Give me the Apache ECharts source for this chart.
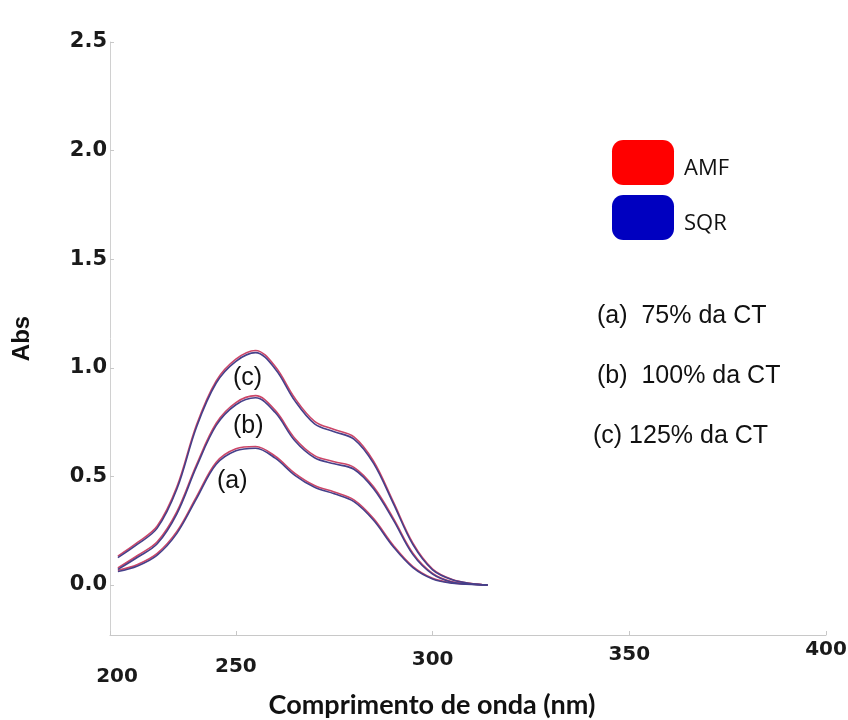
<!DOCTYPE html>
<html>
<head>
    <meta charset="utf-8">
    <title>Abs x Comprimento de onda</title>
    <script src="https://cdn.jsdelivr.net/npm/echarts@6.0.0/dist/echarts.min.js"></script>
    <style>
        html, body {
            margin: 0;
            padding: 0;
            width: 100%;
            height: 100%;
            overflow: hidden;
            background: #ffffff;
        }
        #chart {
            width: 848px;
            height: 720px;
        }
    </style>
</head>
<body>
    <div id="chart"></div>
    <script>
        // comprimento de onda (nm)
        const wavelengths = [220, 225, 230, 235, 240, 245, 250, 255, 260, 265, 270, 275, 280, 285, 290, 295, 300, 305, 310, 314];

        // (a) 75% da CT
        const amfA = [0.068, 0.095, 0.146, 0.247, 0.407, 0.565, 0.627, 0.638, 0.593, 0.514, 0.458, 0.428, 0.392, 0.306, 0.183, 0.085, 0.031, 0.010, 0.004, 0.0];
        const sqrA = [0.062, 0.088, 0.138, 0.238, 0.398, 0.556, 0.618, 0.630, 0.584, 0.505, 0.450, 0.420, 0.384, 0.298, 0.176, 0.080, 0.028, 0.008, 0.003, 0.0];
        // (b) 100% da CT
        const amfB = [0.079, 0.136, 0.199, 0.338, 0.555, 0.745, 0.840, 0.872, 0.804, 0.675, 0.596, 0.568, 0.542, 0.452, 0.308, 0.147, 0.054, 0.015, 0.005, 0.0];
        const sqrB = [0.072, 0.128, 0.190, 0.328, 0.545, 0.735, 0.830, 0.862, 0.794, 0.664, 0.586, 0.558, 0.533, 0.443, 0.300, 0.140, 0.050, 0.013, 0.004, 0.0];
        // (c) 125% da CT
        const amfC = [0.133, 0.196, 0.272, 0.452, 0.738, 0.940, 1.040, 1.080, 1.006, 0.860, 0.754, 0.716, 0.682, 0.570, 0.384, 0.193, 0.074, 0.026, 0.007, 0.0];
        const sqrC = [0.126, 0.188, 0.262, 0.442, 0.728, 0.930, 1.030, 1.070, 0.995, 0.848, 0.742, 0.706, 0.672, 0.560, 0.376, 0.186, 0.070, 0.024, 0.006, 0.0];

        // eixos
        const xTickValues = [218, 250, 300, 350, 400];
        const xTickLabels = ['200', '250', '300', '350', '400'];
        const yTickValues = [0, 0.5, 1.0, 1.5, 2.0, 2.5];

        const legendNames = ['AMF', 'SQR'];
        const notes = ['(a)  75% da CT', '(b)  100% da CT', '(c) 125% da CT'];
        const curveTags = ['(c)', '(b)', '(a)'];

        const amfColor = '#cc4668';
        const sqrColor = '#46408a';

        const zip = (ys) => wavelengths.map((x, i) => [x, ys[i]]);

        function lineSeries(name, ys, color) {
            return {
                name: name,
                type: 'line',
                data: zip(ys),
                smooth: 0.35,
                showSymbol: false,
                symbol: 'none',
                lineStyle: { color: color, width: 1.6 },
                itemStyle: { color: color },
                animation: false
            };
        }

        // o eixo x da figura original está ligeiramente inclinado
        const xLabelRich = {
            t0: { padding: [27, 0, 0, 14] },
            t1: { padding: [17, 0, 0, 0] },
            t2: { padding: [10, 0, 0, 0] },
            t3: { padding: [5, 0, 0, 0] },
            t4: { padding: [0, 0, 0, 0] }
        };

        const chart = echarts.init(document.getElementById('chart'), null, { renderer: 'canvas' });

        const option = {
            backgroundColor: '#ffffff',
            animation: false,
            grid: {
                left: 110,
                right: 22,
                top: 42,
                bottom: 85,
                outerBoundsMode: 'none'
            },
            legend: {
                orient: 'vertical',
                left: 612,
                top: 140,
                padding: 0,
                itemWidth: 62,
                itemHeight: 45,
                itemGap: 10,
                icon: 'roundRect',
                data: [
                    { name: legendNames[0], itemStyle: { color: '#ff0000' } },
                    { name: legendNames[1], itemStyle: { color: '#0000c0' } }
                ],
                formatter: '{t|{name}}',
                textStyle: {
                    fontFamily: 'Open Sans',
                    fontSize: 22,
                    color: '#111',
                    rich: {
                        t: {
                            fontFamily: 'Open Sans',
                            fontSize: 22,
                            color: '#111',
                            padding: [12, 0, 0, 5]
                        }
                    }
                }
            },
            xAxis: {
                type: 'value',
                min: 218,
                max: 400,
                name: 'Comprimento de onda (nm)',
                nameLocation: 'middle',
                nameGap: 53,
                nameTextStyle: {
                    fontFamily: 'Lato',
                    fontWeight: 'bold',
                    fontSize: 27,
                    color: '#111',
                    padding: [0, 72, 0, 0]
                },
                axisLine: { show: true, onZero: false, lineStyle: { color: '#c8c8c8', width: 1 } },
                axisTick: {
                    show: true,
                    customValues: xTickValues,
                    inside: true,
                    length: 4,
                    lineStyle: { color: '#c8c8c8' }
                },
                axisLabel: {
                    customValues: xTickValues,
                    margin: 5,
                    fontFamily: 'DejaVu Sans',
                    fontWeight: 'bold',
                    fontSize: 20,
                    color: '#1a1a1a',
                    rich: xLabelRich,
                    formatter: (v) => {
                        const i = xTickValues.indexOf(v);
                        return i < 0 ? '' : '{t' + i + '|' + xTickLabels[i] + '}';
                    }
                },
                splitLine: { show: false }
            },
            yAxis: {
                type: 'value',
                min: -0.23,
                max: 2.5,
                name: 'Abs',
                nameLocation: 'middle',
                nameRotate: 90,
                nameGap: 76,
                nameTextStyle: {
                    fontFamily: 'Liberation Sans',
                    fontWeight: 'bold',
                    fontSize: 24,
                    color: '#111'
                },
                axisLine: { show: true, lineStyle: { color: '#d0d0d0', width: 1 } },
                axisTick: {
                    show: true,
                    customValues: yTickValues,
                    inside: true,
                    length: 4,
                    lineStyle: { color: '#c8c8c8' }
                },
                axisLabel: {
                    customValues: yTickValues,
                    margin: 3,
                    fontFamily: 'DejaVu Sans',
                    fontWeight: 'bold',
                    fontSize: 21,
                    color: '#1a1a1a',
                    formatter: (v) => v.toFixed(1)
                },
                splitLine: { show: false }
            },
            graphic: [
                { type: 'text', left: 597, top: 304, style: { text: notes[0], font: '25px "Liberation Sans"', fill: '#111' } },
                { type: 'text', left: 597, top: 364, style: { text: notes[1], font: '25px "Liberation Sans"', fill: '#111' } },
                { type: 'text', left: 593, top: 424, style: { text: notes[2], font: '25px "Liberation Sans"', fill: '#111' } },
                { type: 'text', left: 233, top: 366, style: { text: curveTags[0], font: '25px "Liberation Sans"', fill: '#111' } },
                { type: 'text', left: 233, top: 414, style: { text: curveTags[1], font: '25px "Liberation Sans"', fill: '#111' } },
                { type: 'text', left: 217, top: 469, style: { text: curveTags[2], font: '25px "Liberation Sans"', fill: '#111' } }
            ],
            series: [
                lineSeries('AMF', amfA, amfColor),
                lineSeries('AMF', amfB, amfColor),
                lineSeries('AMF', amfC, amfColor),
                lineSeries('SQR', sqrA, sqrColor),
                lineSeries('SQR', sqrB, sqrColor),
                lineSeries('SQR', sqrC, sqrColor)
            ]
        };

        chart.setOption(option);
    </script>
</body>
</html>
